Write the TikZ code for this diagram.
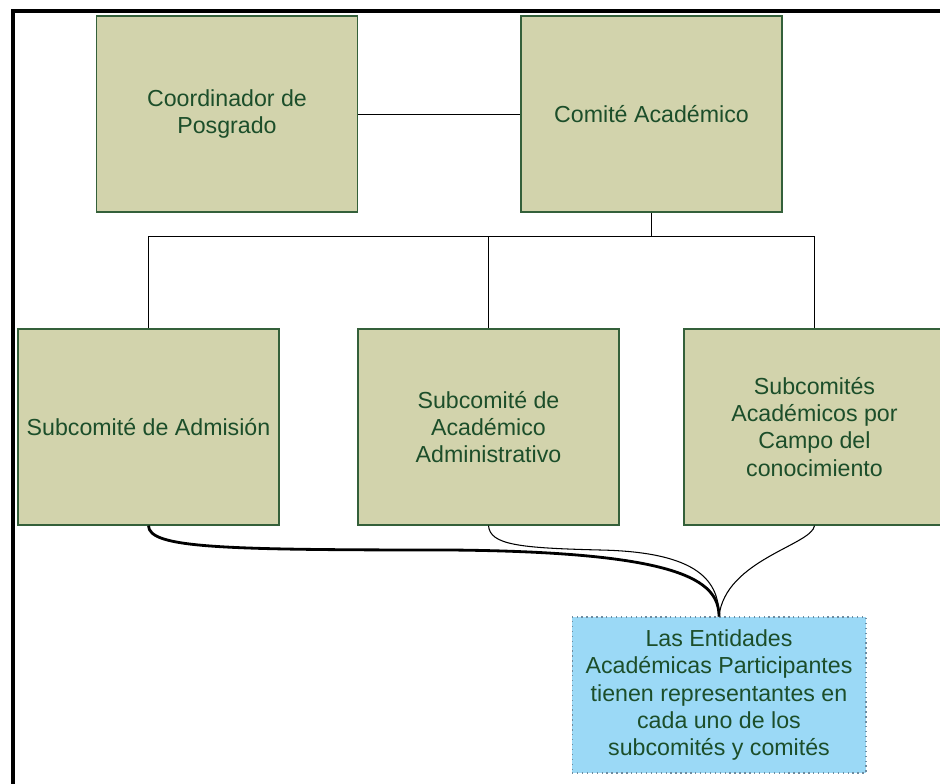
\documentclass[tikz,border=0pt]{standalone}
\usepackage{fontspec}
\setmainfont{Liberation Sans}
\definecolor{boxfill}{RGB}{210,211,172}
\definecolor{boxline}{RGB}{52,96,58}
\definecolor{boxtext}{RGB}{28,78,42}
\definecolor{entfill}{RGB}{155,217,246}
\definecolor{entline}{RGB}{110,140,160}
\begin{document}
\begin{tikzpicture}[x=0.02cm, y=-0.02cm,
    orgbox/.style = {shape = rectangle, draw = boxline, fill = boxfill,
      text = boxtext, align = center, line width = 0.8pt,
      minimum width = 5.22cm, minimum height = 3.92cm, inner sep = 2pt,
      font = \fontsize{13.2}{15.4}\selectfont},
    entbox/.style = {orgbox, draw = entline, fill = entfill, dotted,
      line width = 0.6pt, minimum width = 5.88cm, minimum height = 3.12cm},
    tree/.style = {draw = black, line width = 0.5pt},
  ]
        \useasboundingbox (0, 0) rectangle (940, 784);

        % ------------------------------------------------------------------------
        % Frame
        \draw[line width = 2.4pt] (13, 784) -- (13, 11) -- (940, 11);

        % ------------------------------------------------------------------------
        % Top row
        \node[orgbox] at (227, 114) (coord) {Coordinador de\\Posgrado};
        \node[orgbox] at (651.5, 114) (comite) {Comité Académico};

        % ------------------------------------------------------------------------
        % Subcommittees
        \node[orgbox] at (148.5, 427) (admision) {Subcomité de Admisión};
        \node[orgbox] at (488.5, 427) (adminis) {Subcomité de\\Académico\\Administrativo};
        \node[orgbox] at (814.5, 427) (campo) {Subcomités\\Académicos por\\Campo del\\conocimiento};

        \node[entbox] at (719, 695) (ent) {Las Entidades\\Académicas Participantes\\tienen representantes en\\cada uno de los\\subcomités y comités};

        \coordinate (bus) at (651.5, 236);

        \draw[tree]
          (coord.east) -- (comite.west)
          (comite.south) -- (bus)
          (bus) -| (admision.north)
          (bus) -| (adminis.north)
          (bus) -| (campo.north)
        ;

        % ------------------------------------------------------------------------
        % Links to the entities
        \draw[line width = 1.6pt]
          (admision.south) .. controls (149, 548) and (220, 550) .. (450, 550)
          .. controls (680, 552) and (719, 580) .. (ent.north);
        \draw[line width = 0.6pt]
          (adminis.south) .. controls (490, 545) and (520, 548) .. (600, 550)
          .. controls (700, 552) and (719, 582) .. (ent.north);
        \draw[line width = 0.6pt]
          (campo.south) .. controls (812, 545) and (725, 560) .. (ent.north);
      \end{tikzpicture}
\end{document}
